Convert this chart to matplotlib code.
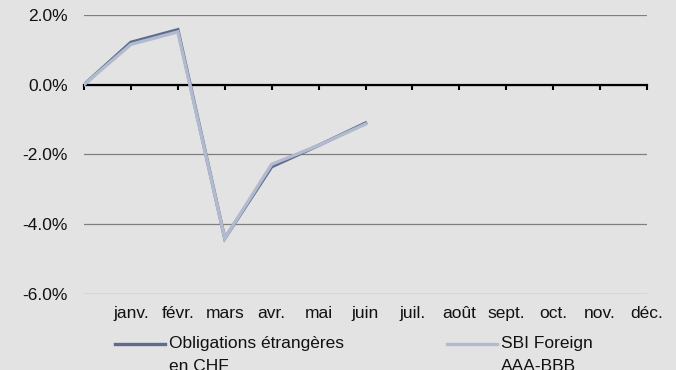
import matplotlib
matplotlib.use("Agg")
import matplotlib.pyplot as plt
from matplotlib.legend_handler import HandlerLine2D

plt.rcParams["font.family"] = ["Liberation Sans", "DejaVu Sans"]

# Monthly performance (%), start of year = 0
months = ["janv.", "févr.", "mars", "avr.", "mai", "juin",
          "juil.", "août", "sept.", "oct.", "nov.", "déc."]
obligations_chf = [0.0, 1.21, 1.57, -4.40, -2.35, -1.74, -1.10]
sbi_foreign = [0.0, 1.15, 1.51, -4.40, -2.28, -1.74, -1.13]
y_ticks = [-6.0, -4.0, -2.0, 0.0, 2.0]

BG = "#e3e3e3"
DARK = "#5c6b8f"
LIGHT = "#b2bacd"
FS = 12.5

fig = plt.figure(figsize=(6.76, 3.70), dpi=100, facecolor=BG)
ax = fig.add_axes([84 / 676, 1 - 294.3 / 370, (647 - 84) / 676, (294.3 - 14.7) / 370])
ax.set_facecolor(BG)

x = list(range(len(obligations_chf)))
ax.plot(x, obligations_chf, color=DARK, lw=2.4, solid_joinstyle="miter",
        label="Obligations étrangères\nen CHF", zorder=3)
ax.plot(x, sbi_foreign, color=LIGHT, lw=2.4, solid_joinstyle="miter",
        label="SBI Foreign\nAAA-BBB", zorder=4)

ax.set_xlim(0, len(months))
ax.set_ylim(min(y_ticks), max(y_ticks))

# horizontal gridlines
ax.set_yticks(y_ticks)
ax.set_yticklabels([f"{v:.1f}%" for v in y_ticks])
ax.yaxis.grid(True, color="#7f7f7f", lw=0.9)
ax.set_axisbelow(True)
ax.tick_params(axis="y", length=0, pad=11.5, labelsize=FS, labelcolor="#111111")

for s in ["top", "right", "left"]:
    ax.spines[s].set_visible(False)

# category axis drawn through zero with tick marks at each month boundary
ax.spines["bottom"].set_position(("data", 0))
ax.spines["bottom"].set_linewidth(1.6)
ax.spines["bottom"].set_zorder(2)
ax.set_xticks(range(len(months) + 1))
ax.tick_params(axis="x", direction="out", length=3.5, width=1.5,
               labelbottom=False, color="black")

# month labels along the bottom of the plot area
sec = ax.secondary_xaxis("bottom")
sec.set_xticks(range(1, len(months) + 1))
sec.set_xticklabels(months)
sec.spines["bottom"].set_visible(False)
sec.tick_params(axis="x", length=0, pad=8.5, labelsize=FS, labelcolor="#111111")


class TopAlignedLine(HandlerLine2D):
    def __init__(self, shift, **kw):
        super().__init__(**kw)
        self.shift = shift

    def create_artists(self, legend, orig_handle, xdescent, ydescent,
                       width, height, fontsize, trans):
        arts = super().create_artists(legend, orig_handle, xdescent, ydescent,
                                      width, height, fontsize, trans)
        for a in arts:
            yd = a.get_ydata()
            a.set_ydata([v + self.shift for v in yd])
        return arts


LS = 1.7
handles, labels = ax.get_legend_handles_labels()
leg = fig.legend(handles, labels, loc="upper left",
                 bbox_to_anchor=(115 / 676, 1 - 336 / 370),
                 ncol=2, frameon=False, fontsize=FS,
                 handlelength=2.9, handletextpad=0.23, columnspacing=5.9,
                 borderpad=0, borderaxespad=0,
                 handler_map={h: TopAlignedLine(7.9) for h in handles})
for t in leg.get_texts():
    t.set_color("#111111")
    t.set_linespacing(LS)

fig.savefig("out.png", dpi=100, facecolor=BG)
